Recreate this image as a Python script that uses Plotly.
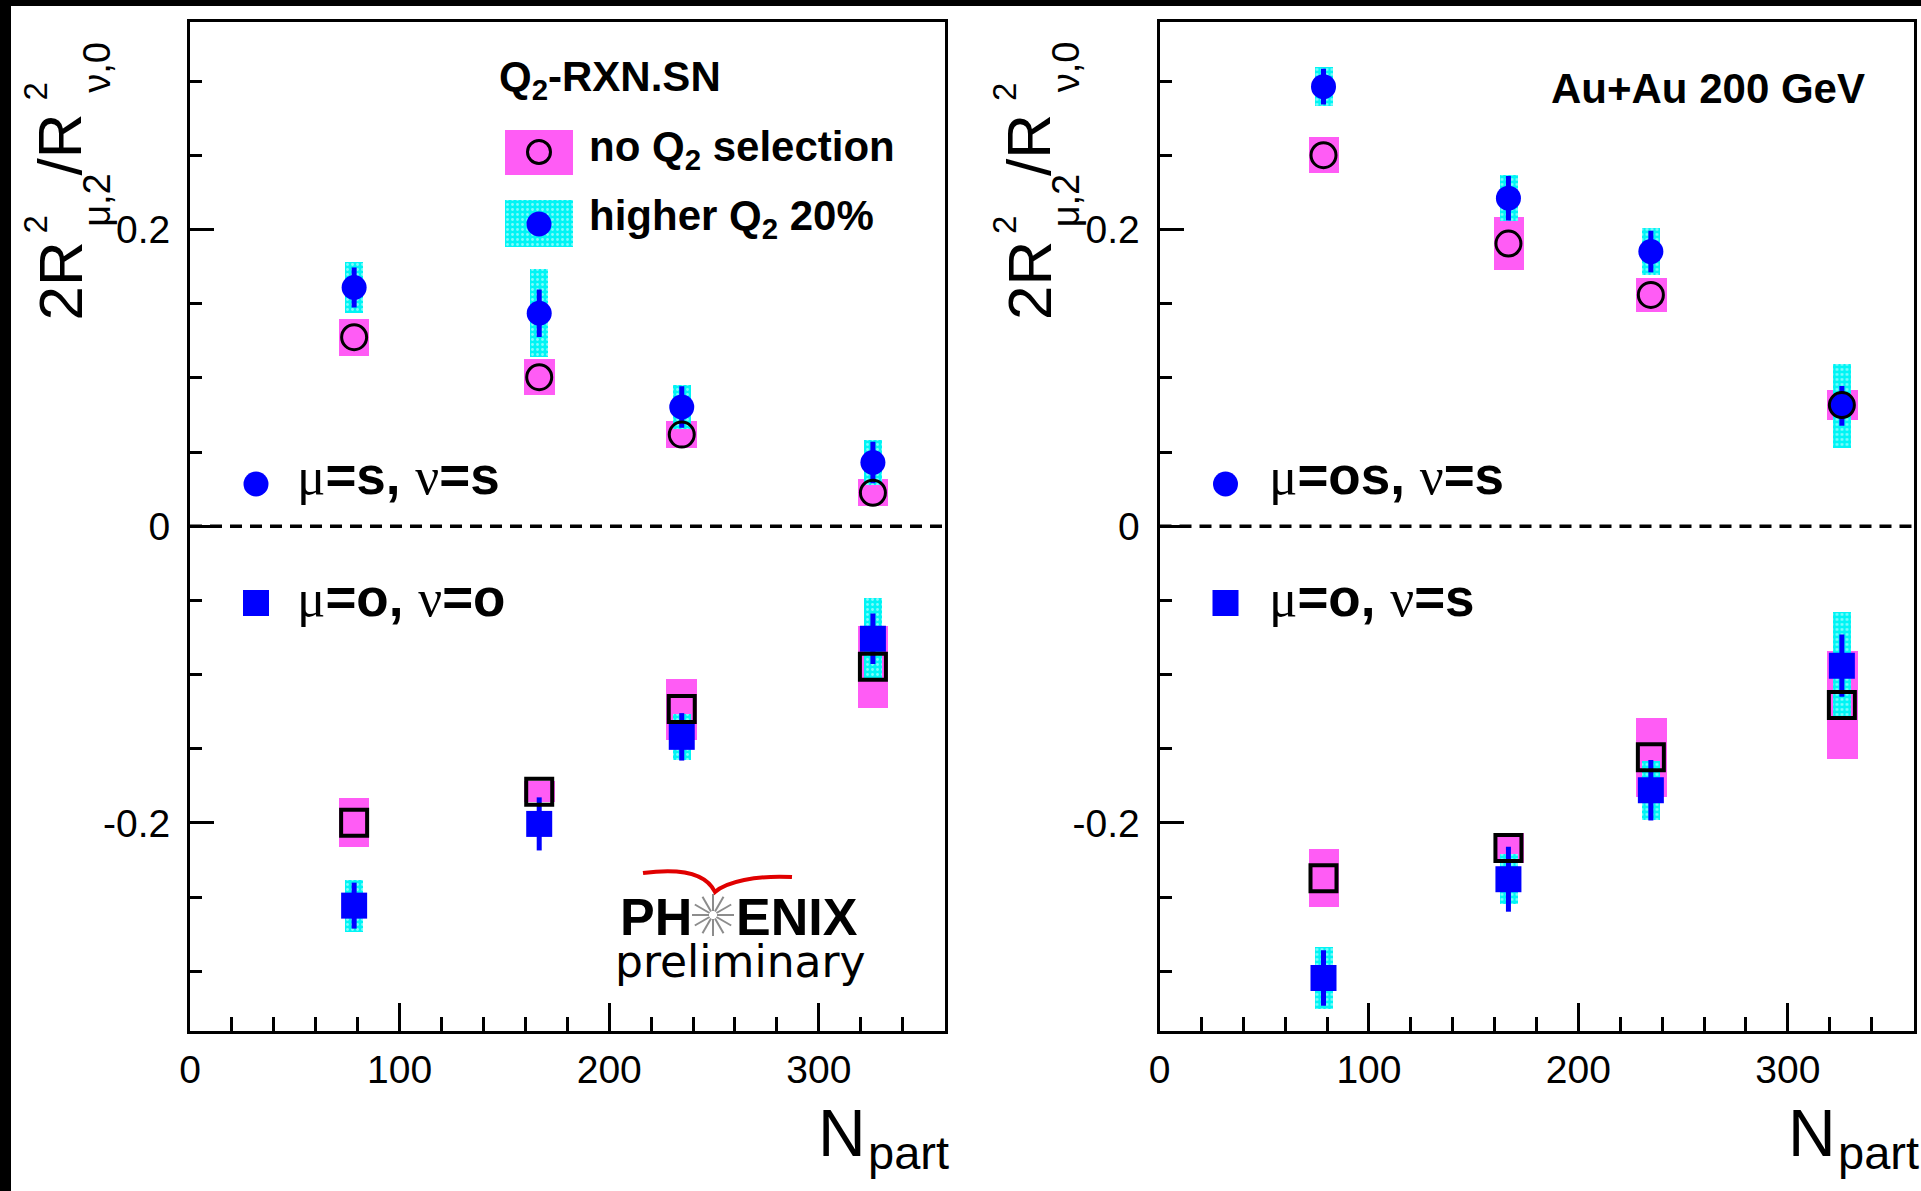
import math
import plotly.graph_objects as go

# ---------------- data ----------------
npart = [78.3, 166.6, 234.6, 325.8]

# left panel, top: mu=s, nu=s
L_ss_noq2 = [0.1275, 0.1005, 0.0618, 0.0226]
L_ss_noq2_sys = [0.0125, 0.012, 0.009, 0.009]
L_ss_hiq2 = [0.161, 0.1436, 0.0804, 0.043]
L_ss_hiq2_stat = [0.0135, 0.016, 0.014, 0.014]
L_ss_hiq2_sys = [0.0175, 0.0297, 0.0148, 0.0152]

# left panel, bottom: mu=o, nu=o
L_oo_noq2 = [-0.1999, -0.179, -0.1233, -0.0948]
L_oo_noq2_sys = [0.0165, 0.007, 0.0206, 0.0276]
L_oo_hiq2 = [-0.2558, -0.2007, -0.142, -0.0759]
L_oo_hiq2_stat = [0.0155, 0.0179, 0.016, 0.017]
L_oo_hiq2_sys = [0.0176, 0.008, 0.0156, 0.0273]

# right panel, top: mu=os, nu=s
R_oss_noq2 = [0.2502, 0.1906, 0.156, 0.0817]
R_oss_noq2_sys = [0.0121, 0.018, 0.0112, 0.0103]
R_oss_hiq2 = [0.2964, 0.2212, 0.1852, 0.0811]
R_oss_hiq2_stat = [0.012, 0.015, 0.014, 0.0134]
R_oss_hiq2_sys = [0.0133, 0.0156, 0.0156, 0.028]

# right panel, bottom: mu=o, nu=s
R_os_noq2 = [-0.2373, -0.2169, -0.1558, -0.1206]
R_os_noq2_sys = [0.0196, 0.01, 0.0265, 0.0362]
R_os_hiq2 = [-0.3046, -0.238, -0.178, -0.094]
R_os_hiq2_stat = [0.0187, 0.0219, 0.0204, 0.021]
R_os_hiq2_sys = [0.0206, 0.017, 0.02, 0.0359]

x_ticks = [0, 100, 200, 300]
y_tickvals = [-0.2, 0, 0.2]
y_ticktext = ["-0.2", "0", "0.2"]

# ---------------- layout constants ----------------
W, H = 1921, 1191
XL = (190.0, 944.6)
XR = (1159.5, 1913.5)
YT, YB = 22.0, 1030.5
XMIN, XMAX = 0, 360
YMIN, YMAX = -0.34, 0.34

MAGENTA = "#ff5cf5"
CYAN = "#00f5f5"
BLUE = "#0000ff"
SANS = "Liberation Sans, Arial, Helvetica, sans-serif"
BOX_W = 14.6
CYAN_W = 8.5


def px(x):
    return x / W


def py(y):
    return 1 - y / H


def to_data(panel_x0, panel_x1, xpix, ypix):
    xv = XMIN + (xpix - panel_x0) / (panel_x1 - panel_x0) * (XMAX - XMIN)
    yv = YMAX - (ypix - YT) / (YB - YT) * (YMAX - YMIN)
    return xv, yv


fig = go.Figure()
PATTERN = dict(shape=".", fgcolor="white", size=5, solidity=0.25)


def sys_bars(xa, ya, vals, sys, color, width, pattern=False):
    marker = dict(color=color, line=dict(width=0))
    if pattern:
        marker["pattern"] = PATTERN
    fig.add_trace(go.Bar(
        x=npart, y=[2 * s for s in sys], base=[v - s for v, s in zip(vals, sys)],
        width=width, marker=marker, xaxis=xa, yaxis=ya, showlegend=False,
        hoverinfo="skip"))


def filled(xa, ya, vals, stat, symbol):
    fig.add_trace(go.Scatter(
        x=npart, y=vals, mode="markers",
        marker=dict(symbol=symbol, size=25 if symbol == "circle" else 26,
                    color=BLUE, line=dict(width=0)),
        error_y=dict(type="data", array=stat, color=BLUE, thickness=5, width=0),
        xaxis=xa, yaxis=ya, showlegend=False))


def opened(xa, ya, vals, symbol):
    is_c = symbol == "circle-open"
    fig.add_trace(go.Scatter(
        x=npart, y=vals, mode="markers",
        marker=dict(symbol=symbol, size=25 if is_c else 26, color="black",
                    line=dict(width=3 if is_c else 4, color="black")),
        xaxis=xa, yaxis=ya, showlegend=False))


panels = [
    ("x", "y", (L_ss_noq2, L_ss_noq2_sys, L_ss_hiq2, L_ss_hiq2_stat, L_ss_hiq2_sys),
     (L_oo_noq2, L_oo_noq2_sys, L_oo_hiq2, L_oo_hiq2_stat, L_oo_hiq2_sys)),
    ("x2", "y2", (R_oss_noq2, R_oss_noq2_sys, R_oss_hiq2, R_oss_hiq2_stat, R_oss_hiq2_sys),
     (R_os_noq2, R_os_noq2_sys, R_os_hiq2, R_os_hiq2_stat, R_os_hiq2_sys)),
]

for xa, ya, top, bot in panels:
    sys_bars(xa, ya, top[0], top[1], MAGENTA, BOX_W)
    sys_bars(xa, ya, bot[0], bot[1], MAGENTA, BOX_W)
    sys_bars(xa, ya, top[2], top[4], CYAN, CYAN_W, pattern=True)
    sys_bars(xa, ya, bot[2], bot[4], CYAN, CYAN_W, pattern=True)
    filled(xa, ya, top[2], top[3], "circle")
    filled(xa, ya, bot[2], bot[3], "square")
    opened(xa, ya, top[0], "circle-open")
    opened(xa, ya, bot[0], "square-open")

# ---- legend glyphs (left panel, Q2 legend) ----
lx0, ly0 = to_data(*XL, 505, 130)
lx1, ly1 = to_data(*XL, 573, 175)
fig.add_trace(go.Bar(x=[(lx0 + lx1) / 2], y=[ly0 - ly1], base=[ly1], width=lx1 - lx0,
                     marker=dict(color=MAGENTA, line=dict(width=0)), xaxis="x", yaxis="y",
                     showlegend=False, hoverinfo="skip"))
cx0, cy0 = to_data(*XL, 505, 200)
cx1, cy1 = to_data(*XL, 573, 247)
fig.add_trace(go.Bar(x=[(cx0 + cx1) / 2], y=[cy0 - cy1], base=[cy1], width=cx1 - cx0,
                     marker=dict(color=CYAN, line=dict(width=0), pattern=PATTERN),
                     xaxis="x", yaxis="y", showlegend=False, hoverinfo="skip"))
mx, my = to_data(*XL, 539, 152)
fig.add_trace(go.Scatter(x=[mx], y=[my], mode="markers", xaxis="x", yaxis="y", showlegend=False,
                         marker=dict(symbol="circle-open", size=23, color="black",
                                     line=dict(width=3, color="black"))))
mx, my = to_data(*XL, 539, 224)
fig.add_trace(go.Scatter(x=[mx], y=[my], mode="markers", xaxis="x", yaxis="y", showlegend=False,
                         marker=dict(symbol="circle", size=25, color=BLUE)))

# ---- mu/nu legend glyphs ----
for (x0, x1), xa, ya in [(XL, "x", "y"), (XR, "x2", "y2")]:
    off = x0 - XL[0]
    gx, gy = to_data(x0, x1, 256 + off, 484)
    fig.add_trace(go.Scatter(x=[gx], y=[gy], mode="markers", xaxis=xa, yaxis=ya, showlegend=False,
                             marker=dict(symbol="circle", size=25, color=BLUE)))
    gx, gy = to_data(x0, x1, 256 + off, 603)
    fig.add_trace(go.Scatter(x=[gx], y=[gy], mode="markers", xaxis=xa, yaxis=ya, showlegend=False,
                             marker=dict(symbol="square", size=26, color=BLUE)))

# ---------------- axes ----------------
tickfont = dict(family=SANS, size=39, color="black")


def xaxis_cfg(dom, anchor):
    return dict(domain=[px(dom[0]), px(dom[1])], anchor=anchor, range=[XMIN, XMAX],
                tickvals=x_ticks, ticktext=[str(t) for t in x_ticks],
                ticks="inside", ticklen=28, tickwidth=3, tickcolor="black",
                minor=dict(dtick=20, tick0=0, ticks="inside", ticklen=14, tickwidth=3,
                           tickcolor="black", showgrid=False),
                showline=True, linewidth=3, linecolor="black", mirror=True,
                showgrid=False, zeroline=False, tickfont=tickfont, ticklabelstandoff=3,
                automargin=False)


def yaxis_cfg(anchor):
    return dict(domain=[py(YB), py(YT)], anchor=anchor, range=[YMIN, YMAX],
                tickvals=y_tickvals, ticktext=y_ticktext,
                ticks="inside", ticklen=24, tickwidth=3, tickcolor="black",
                minor=dict(dtick=0.05, tick0=0, ticks="inside", ticklen=12, tickwidth=3,
                           tickcolor="black", showgrid=False),
                showline=True, linewidth=3, linecolor="black", mirror=True,
                showgrid=False, zeroline=False, tickfont=tickfont, ticklabelstandoff=9,
                automargin=False)


shapes = []
for xa, ya in [("x", "y"), ("x2", "y2")]:
    shapes.append(dict(type="line", xref=xa, yref=ya, x0=XMIN, x1=XMAX, y0=0, y1=0,
                       line=dict(color="black", width=3.5, dash="12px,8px")))
# black edges of the picture
shapes.append(dict(type="rect", xref="paper", yref="paper", x0=0, x1=px(11), y0=0, y1=1,
                   fillcolor="black", line=dict(width=0), layer="above"))
shapes.append(dict(type="rect", xref="paper", yref="paper", x0=0, x1=1, y0=py(6), y1=1,
                   fillcolor="black", line=dict(width=0), layer="above"))

# PHENIX logo: swoosh and star
sw = [(643, 873), (680, 868), (706, 873), (715, 892), (726, 882), (756, 875), (792, 877)]
path = "M {} {} C {} {}, {} {}, {} {} C {} {}, {} {}, {} {}".format(
    *[v for p in sw for v in (px(p[0]), py(p[1]))])
shapes.append(dict(type="path", xref="paper", yref="paper", path=path,
                   line=dict(color="#e00000", width=4)))
scx, scy = 713, 915
for k in range(12):
    a = math.pi * k / 6
    shapes.append(dict(type="line", xref="paper", yref="paper",
                       x0=px(scx + 4 * math.cos(a)), y0=py(scy + 4 * math.sin(a)),
                       x1=px(scx + 21 * math.cos(a)), y1=py(scy + 21 * math.sin(a)),
                       line=dict(color="#8c8c8c", width=2)))

# ---------------- annotations ----------------
anns = []


def ann(text, x, y, size, xanchor="center", yanchor="middle", angle=0, family=SANS, color="black"):
    anns.append(dict(text=text, x=px(x), y=py(y), xref="paper", yref="paper", showarrow=False,
                     xanchor=xanchor, yanchor=yanchor, textangle=angle,
                     font=dict(family=family, size=size, color=color), borderpad=0))


def c_from_base(base, size):
    return base - 0.3465 * size


for x0 in (XL[0], XR[0]):
    o = x0 - XL[0]
    # y-axis title pieces (rotated, read bottom to top)
    ann("2R", c_from_base(84, 62) + o - 3, 281, 62, angle=-90)
    ann("2", c_from_base(49, 33) + o - 3, 225, 33, angle=-90)
    ann("μ,2", c_from_base(113, 38) + o - 3, 200, 38, angle=-90)
    ann("/R", c_from_base(84, 62) + o - 3, 145, 62, angle=-90)
    ann("2", c_from_base(49, 33) + o - 3, 92, 33, angle=-90)
    ann("ν,0", c_from_base(113, 38) + o - 3, 67, 38, angle=-90)
    # x-axis title
    ann("N", 867 + o, c_from_base(1156, 66), 66, xanchor="right")
    ann("part", 867 + o, c_from_base(1169, 47), 47, xanchor="left")

mu = '<span style="font-family:Liberation Serif;font-weight:normal">μ</span>'
nu = '<span style="font-family:Liberation Serif;font-weight:normal">ν</span>'
ann("<b>Q<sub>2</sub>-RXN.SN</b>", 498, 80, 42, xanchor="left")
ann("<b>no Q<sub>2</sub> selection</b>", 588, 150, 42, xanchor="left")
ann("<b>higher Q<sub>2</sub> 20%</b>", 588, 218, 42, xanchor="left")
ann(f"{mu}<b>=s, </b>{nu}<b>=s</b>", 296, 475, 53, xanchor="left")
ann(f"{mu}<b>=o, </b>{nu}<b>=o</b>", 296, 597, 53, xanchor="left")
ann("<b>Au+Au 200 GeV</b>", 1550, 88, 42, xanchor="left")
ann(f"{mu}<b>=os, </b>{nu}<b>=s</b>", 1268, 475, 53, xanchor="left")
ann(f"{mu}<b>=o, </b>{nu}<b>=s</b>", 1268, 597, 53, xanchor="left")
# PHENIX preliminary
ann("<b>PH</b>", 693, c_from_base(935, 52), 52, xanchor="right")
ann("<b>ENIX</b>", 735, c_from_base(935, 52), 52, xanchor="left")
ann("preliminary", 614, c_from_base(977, 44), 44, xanchor="left", family="DejaVu Sans")

fig.update_layout(
    width=W, height=H, autosize=False,
    margin=dict(l=0, r=0, t=0, b=0, pad=0, autoexpand=False),
    paper_bgcolor="white", plot_bgcolor="white", barmode="overlay", bargap=0,
    showlegend=False,
    xaxis=xaxis_cfg(XL, "y"), yaxis=yaxis_cfg("x"),
    xaxis2=xaxis_cfg(XR, "y2"), yaxis2=yaxis_cfg("x2"),
    shapes=shapes, annotations=anns,
)

fig.write_html("out.html")
